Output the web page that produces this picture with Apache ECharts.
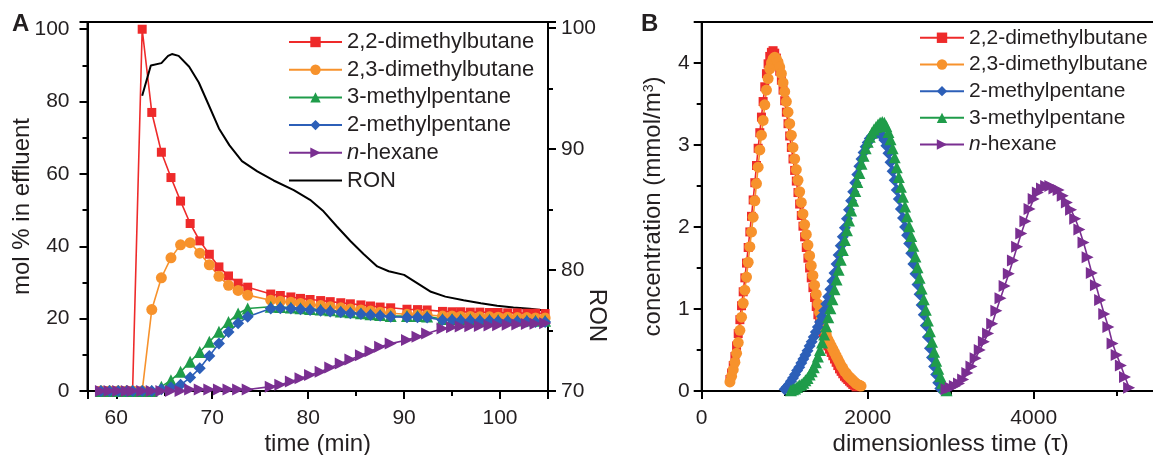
<!DOCTYPE html>
<html>
<head>
<meta charset="utf-8">
<title>isomer breakthrough</title>
<script src="https://cdn.jsdelivr.net/npm/echarts/dist/echarts.min.js"></script>
<style>
html, body { margin: 0; padding: 0; background: #fff; }
#main { width: 1153px; height: 455px; }
</style>
</head>
<body>
<div id="main"></div>
<script>
// panel A : effluent composition vs time (min)
var timeA = [58.4, 59.3, 60.2, 61.1, 61.7, 62.7, 63.7, 64.7, 65.7, 66.7, 67.7, 68.7, 69.7, 70.7, 71.7, 72.7, 73.7,
    76.1, 77.1, 78.2, 79.2, 80.2, 81.3, 82.3, 83.4, 84.4, 85.5, 86.5, 87.5, 88.6,
    90.3, 91.4, 92.4,
    94.0, 95.0, 95.9, 96.9, 97.9, 98.9, 99.8, 100.8, 101.8, 102.8, 103.7, 104.7];
var dmb22A = [0, 0, 0, 0, 0, 100, 77, 66, 59, 52.5, 46.3, 41.5, 37.8, 34.3, 31.8, 29.8, 28.7,
    26.8, 26.4, 26.0, 25.6, 25.3, 25.0, 24.7, 24.4, 24.1, 23.8, 23.5, 23.2, 23.0,
    22.6, 22.5, 22.4,
    22.0, 21.9, 21.9, 21.8, 21.8, 21.7, 21.7, 21.6, 21.6, 21.5, 21.5, 21.4];
var dmb23A = [0, 0, 0, 0, 0, 0, 22.5, 31.3, 36.8, 40.4, 41.0, 38.1, 34.9, 31.7, 29.2, 27.8, 26.5,
    25.1, 24.8, 24.5, 24.2, 23.9, 23.6, 23.3, 23.0, 22.7, 22.4, 22.1, 21.8, 21.5,
    21.2, 21.1, 21.0,
    20.7, 20.7, 20.6, 20.6, 20.5, 20.5, 20.4, 20.4, 20.3, 20.3, 20.2, 20.2];
var mp3A = [0, 0, 0, 0, 0, 0, 0, 1.2, 3.0, 5.3, 8.1, 10.8, 13.6, 16.4, 19.1, 21.4, 22.8,
    23.3, 23.2, 23.1, 22.9, 22.7, 22.5, 22.3, 22.0, 21.8, 21.5, 21.2, 21.0, 20.7,
    20.7, 20.7, 20.6,
    19.9, 19.9, 19.8, 19.8, 19.7, 19.7, 19.6, 19.6, 19.5, 19.5, 19.4, 19.4];
var mp2A = [0, 0, 0, 0, 0, 0, 0, 0.5, 1.0, 1.7, 3.7, 6.3, 9.7, 13.1, 16.3, 18.7, 20.5,
    22.8, 22.9, 22.8, 22.6, 22.4, 22.2, 22.0, 21.8, 21.5, 21.3, 21.0, 20.8, 20.5,
    20.4, 20.4, 20.3,
    19.6, 19.6, 19.5, 19.5, 19.4, 19.4, 19.3, 19.3, 19.2, 19.2, 19.1, 19.1];
var hexA = [0, 0, 0, 0, 0, 0, 0, 0, 0, 0, 0.4, 0.4, 0.4, 0.4, 0.4, 0.4, 0.4,
    1.2, 1.7, 2.6, 3.5, 4.4, 5.3, 6.5, 7.6, 8.7, 9.9, 11.0, 12.2, 13.1,
    14.1, 15.0, 15.9,
    17.3, 17.6, 17.8, 17.9, 18.0, 18.1, 18.2, 18.3, 18.4, 18.5, 18.6, 18.7];
var ronTime = [62.7, 63.6, 64.7, 65.4, 65.8, 66.5, 67.6, 68.6, 69.6, 70.7, 71.8, 73.1, 74.7, 76.4, 78.5, 80.2,
    81.6, 83.0, 84.4, 85.8, 87.2, 88.4, 90.0, 91.4, 92.8, 94.3, 96.2, 98.0, 99.7, 101.4, 103.1, 104.7];
var ronValue = [94.4, 96.9, 97.1, 97.7, 97.85, 97.7, 96.8, 95.5, 93.7, 91.7, 90.3, 89.0, 88.15, 87.4, 86.6, 85.8,
    84.85, 83.6, 82.4, 81.3, 80.3, 79.9, 79.6, 78.9, 78.2, 77.8, 77.5, 77.25, 77.05, 76.9, 76.8, 76.65];

// panel B : simulated concentration vs dimensionless time, sampled on a uniform tau grid
var dmb22Start = 340, dmb22Step = 20;
var dmb22B = [0.14, 0.22, 0.31, 0.42, 0.55, 0.70, 0.87, 1.04, 1.21, 1.38, 1.56, 1.75, 1.94, 2.13, 2.33, 2.54,
    2.75, 2.96, 3.15, 3.34, 3.53, 3.71, 3.87, 3.99, 4.08, 4.13, 4.15, 4.12,
    4.06, 3.99, 3.90, 3.79, 3.67, 3.54, 3.40, 3.26, 3.11, 2.97, 2.83, 2.69, 2.56, 2.42, 2.28, 2.14, 2.01,
    1.88, 1.75, 1.62, 1.50, 1.38, 1.26, 1.14, 1.03, 0.93, 0.85, 0.78, 0.71, 0.65, 0.60, 0.55, 0.51, 0.47,
    0.43, 0.39, 0.35, 0.31, 0.27, 0.24, 0.21, 0.18, 0.16, 0.14, 0.12, 0.10, 0.08, 0.07, 0.05];
var dmb23Start = 340, dmb23Step = 20;
var dmb23B = [0.11, 0.18, 0.26, 0.35, 0.46, 0.59, 0.74, 0.90, 1.07, 1.23, 1.39, 1.57, 1.76, 1.94, 2.12, 2.32,
    2.53, 2.73, 2.94, 3.12, 3.30, 3.49, 3.67, 3.81, 3.93, 4.00, 4.05, 4.07,
    4.05, 4.01, 3.95, 3.87, 3.76, 3.65, 3.53, 3.40, 3.26, 3.12, 2.97, 2.83, 2.70, 2.57, 2.43, 2.30, 2.16,
    2.03, 1.91, 1.78, 1.65, 1.53, 1.41, 1.29, 1.18, 1.06, 0.96, 0.88, 0.81, 0.75, 0.69, 0.63, 0.59, 0.55,
    0.51, 0.47, 0.43, 0.39, 0.35, 0.31, 0.28, 0.24, 0.22, 0.19, 0.17, 0.15, 0.13, 0.11, 0.09, 0.08, 0.07, 0.06];
var mp2Start = 1000, mp2Step = 25;
var mp2B = [0.02, 0.05, 0.08, 0.12, 0.16, 0.20, 0.25, 0.29, 0.34, 0.39, 0.44, 0.49, 0.55, 0.60, 0.66, 0.72,
    0.78, 0.84, 0.91, 0.98, 1.06, 1.15, 1.24, 1.34, 1.44, 1.55, 1.66, 1.77, 1.88, 1.99, 2.10, 2.21, 2.32,
    2.43, 2.54, 2.64, 2.74, 2.83, 2.91, 2.98, 3.03, 3.08, 3.11, 3.13, 3.15, 3.15, 3.14,
    3.11, 3.06, 2.99, 2.90, 2.79, 2.68, 2.57, 2.45, 2.34, 2.22, 2.11, 2.00, 1.90, 1.80, 1.68, 1.55, 1.43,
    1.30, 1.18, 1.05, 0.93, 0.80, 0.66, 0.52, 0.41, 0.30, 0.20, 0.10, 0.03];
var mp3Start = 1075, mp3Step = 25;
var mp3B = [0.01, 0.02, 0.03, 0.05, 0.07, 0.08, 0.10, 0.13, 0.16, 0.20, 0.24, 0.29, 0.35, 0.42, 0.50, 0.59,
    0.69, 0.79, 0.90, 1.01, 1.12, 1.24, 1.36, 1.48, 1.60, 1.72, 1.84, 1.96, 2.08, 2.20, 2.32, 2.44, 2.55,
    2.66, 2.77, 2.87, 2.96, 3.04, 3.10, 3.15, 3.19, 3.22, 3.25, 3.27, 3.28, 3.27,
    3.23, 3.16, 3.07, 2.96, 2.85, 2.73, 2.61, 2.49, 2.37, 2.25, 2.13, 2.01, 1.89, 1.77, 1.64, 1.51, 1.38,
    1.25, 1.12, 0.99, 0.86, 0.73, 0.60, 0.48, 0.37, 0.27, 0.18, 0.10, 0.05, 0.01];
var hexStart = 2950, hexStep = 50;
var hexB = [0.02, 0.04, 0.06, 0.09, 0.14, 0.22, 0.30, 0.40, 0.50, 0.60, 0.70, 0.82, 0.98, 1.13, 1.28, 1.43,
    1.59, 1.76, 1.92, 2.07, 2.22, 2.34, 2.42, 2.47, 2.50, 2.50, 2.47, 2.45, 2.38, 2.30, 2.21, 2.10, 1.97,
    1.81, 1.63, 1.44, 1.29, 1.11, 0.94, 0.78, 0.58, 0.44, 0.31, 0.17, 0.04];

var font = "'Liberation Sans', Arial, sans-serif";
var ink = '#231f20';
var red = '#ee2a2a', orange = '#f7922c', green = '#1f9c4a', blue = '#2c5fb8', purple = '#7a2f91';

function pairs(xs, ys) {
    return ys.map(function (v, i) { return [xs[i], v]; });
}
function uniform(start, step, ys) {
    return ys.map(function (v, i) { return [start + i * step, v]; });
}
function line(name, xi, yi, data, color, symbol, size, rotate) {
    return {
        name: name, type: 'line', xAxisIndex: xi, yAxisIndex: yi, data: data,
        symbol: symbol, symbolSize: size, symbolRotate: rotate || 0,
        lineStyle: { color: color, width: 1.6 },
        itemStyle: { color: color },
        emphasis: { disabled: true }
    };
}

var axisCommon = {
    axisLine: { show: true, onZero: false, lineStyle: { color: '#000', width: 2 } },
    axisTick: { show: true, length: 8, lineStyle: { color: '#000', width: 2 } },
    minorTick: { show: true, splitNumber: 2, length: 5, lineStyle: { color: '#000', width: 2 } },
    splitLine: { show: false },
    nameTextStyle: { fontSize: 24, color: ink, fontFamily: font },
    nameLocation: 'middle',
    nameMoveOverlap: false
};
function ax(extra) {
    return Object.assign({}, axisCommon, extra);
}
function lbl(margin, more) {
    return Object.assign({ fontSize: 21, color: ink, fontFamily: font, margin: margin,
        formatter: function (v) { return String(v); } }, more || {});
}
function legendFmt(name) {
    return name === 'n-hexane' ? '{i|n}-hexane' : name;
}

var myChart = echarts.init(document.getElementById('main'));
var option = {
    animation: false,
    backgroundColor: '#fff',
    title: [
        { text: 'A', left: 12, top: 12, padding: 0, textStyle: { fontSize: 24, fontWeight: 'bold', color: ink, fontFamily: font } },
        { text: 'B', left: 641, top: 12, padding: 0, textStyle: { fontSize: 24, fontWeight: 'bold', color: ink, fontFamily: font } }
    ],
    grid: [
        { left: 87.5, top: 22, right: 605, bottom: 64, outerBoundsMode: 'none', containLabel: false,
            show: true, borderColor: '#000', borderWidth: 2 },
        { left: 701.7, top: 22, right: -46.7, bottom: 64, outerBoundsMode: 'none', containLabel: false,
            show: true, borderColor: '#000', borderWidth: 2 }
    ],
    xAxis: [
        ax({ gridIndex: 0, type: 'value', min: 57, max: 105, splitNumber: 5, name: 'time (min)', nameGap: 41,
            axisLabel: lbl(17, { showMinLabel: false, showMaxLabel: false }) }),
        ax({ gridIndex: 1, type: 'value', min: 0, max: 6000, interval: 2000, name: 'dimensionless time (\u03c4)', nameGap: 41,
            axisLabel: lbl(17) })
    ],
    yAxis: [
        ax({ gridIndex: 0, type: 'value', min: 0, max: 102, interval: 20, name: 'mol % in effluent', nameGap: 53,
            axisLabel: lbl(18, { showMaxLabel: false }) }),
        ax({ gridIndex: 0, type: 'value', position: 'right', min: 70, max: 100.5, interval: 10, name: 'RON', nameGap: 37,
            nameRotate: -90,
            nameTextStyle: { fontSize: 24, color: ink, fontFamily: font, padding: [0, 0, 0, 218] },
            axisLabel: lbl(13, { showMaxLabel: false }) }),
        ax({ gridIndex: 1, type: 'value', min: 0, max: 4.5, interval: 1, name: 'concentration (mmol/m{s|3})', nameGap: 36,
            nameTextStyle: { fontSize: 24, color: ink, fontFamily: font,
                rich: { s: { fontSize: 14, color: ink, fontFamily: font, verticalAlign: 'top', lineHeight: 24 } } },
            axisLabel: lbl(12, { showMaxLabel: false }) })
    ],
    legend: [
        { orient: 'vertical', left: 288, top: 31, padding: 0, itemWidth: 53, itemHeight: 13, itemGap: 5.7,
            formatter: legendFmt, selectedMode: false,
            textStyle: { fontSize: 22, lineHeight: 22, color: ink, fontFamily: font,
                rich: { i: { fontSize: 22, fontStyle: 'italic', color: ink, fontFamily: font } } },
            data: ['2,2-dimethylbutane', '2,3-dimethylbutane', '3-methylpentane', '2-methylpentane', 'n-hexane',
                { name: 'RON', itemStyle: { opacity: 0 } }] },
        { orient: 'vertical', left: 919, top: 27, padding: 0, itemWidth: 44, itemHeight: 13, itemGap: 5.2,
            formatter: legendFmt, selectedMode: false,
            textStyle: { fontSize: 21, lineHeight: 21.5, color: ink, fontFamily: font,
                rich: { i: { fontSize: 21, fontStyle: 'italic', color: ink, fontFamily: font } } },
            data: ['2,2-dimethylbutane', '2,3-dimethylbutane', '2-methylpentane', '3-methylpentane', 'n-hexane'] }
    ],
    series: [
        line('2,2-dimethylbutane', 0, 0, pairs(timeA, dmb22A), red, 'rect', 9),
        line('2,3-dimethylbutane', 0, 0, pairs(timeA, dmb23A), orange, 'circle', 11),
        line('3-methylpentane', 0, 0, pairs(timeA, mp3A), green, 'triangle', 12),
        line('2-methylpentane', 0, 0, pairs(timeA, mp2A), blue, 'diamond', 12),
        line('n-hexane', 0, 0, pairs(timeA, hexA), purple, 'triangle', 12, -90),
        {
            name: 'RON', type: 'line', xAxisIndex: 0, yAxisIndex: 1, data: pairs(ronTime, ronValue),
            symbol: 'none', lineStyle: { color: '#000', width: 2 }, itemStyle: { color: '#000' },
            emphasis: { disabled: true }
        },

        line('2,2-dimethylbutane', 1, 2, uniform(dmb22Start, dmb22Step, dmb22B), red, 'rect', 9),
        line('2,3-dimethylbutane', 1, 2, uniform(dmb23Start, dmb23Step, dmb23B), orange, 'circle', 11),
        line('2-methylpentane', 1, 2, uniform(mp2Start, mp2Step, mp2B), blue, 'diamond', 12),
        line('3-methylpentane', 1, 2, uniform(mp3Start, mp3Step, mp3B), green, 'triangle', 12),
        line('n-hexane', 1, 2, uniform(hexStart, hexStep, hexB), purple, 'triangle', 12, -90)
    ]
};
myChart.setOption(option);
</script>
</body>
</html>
